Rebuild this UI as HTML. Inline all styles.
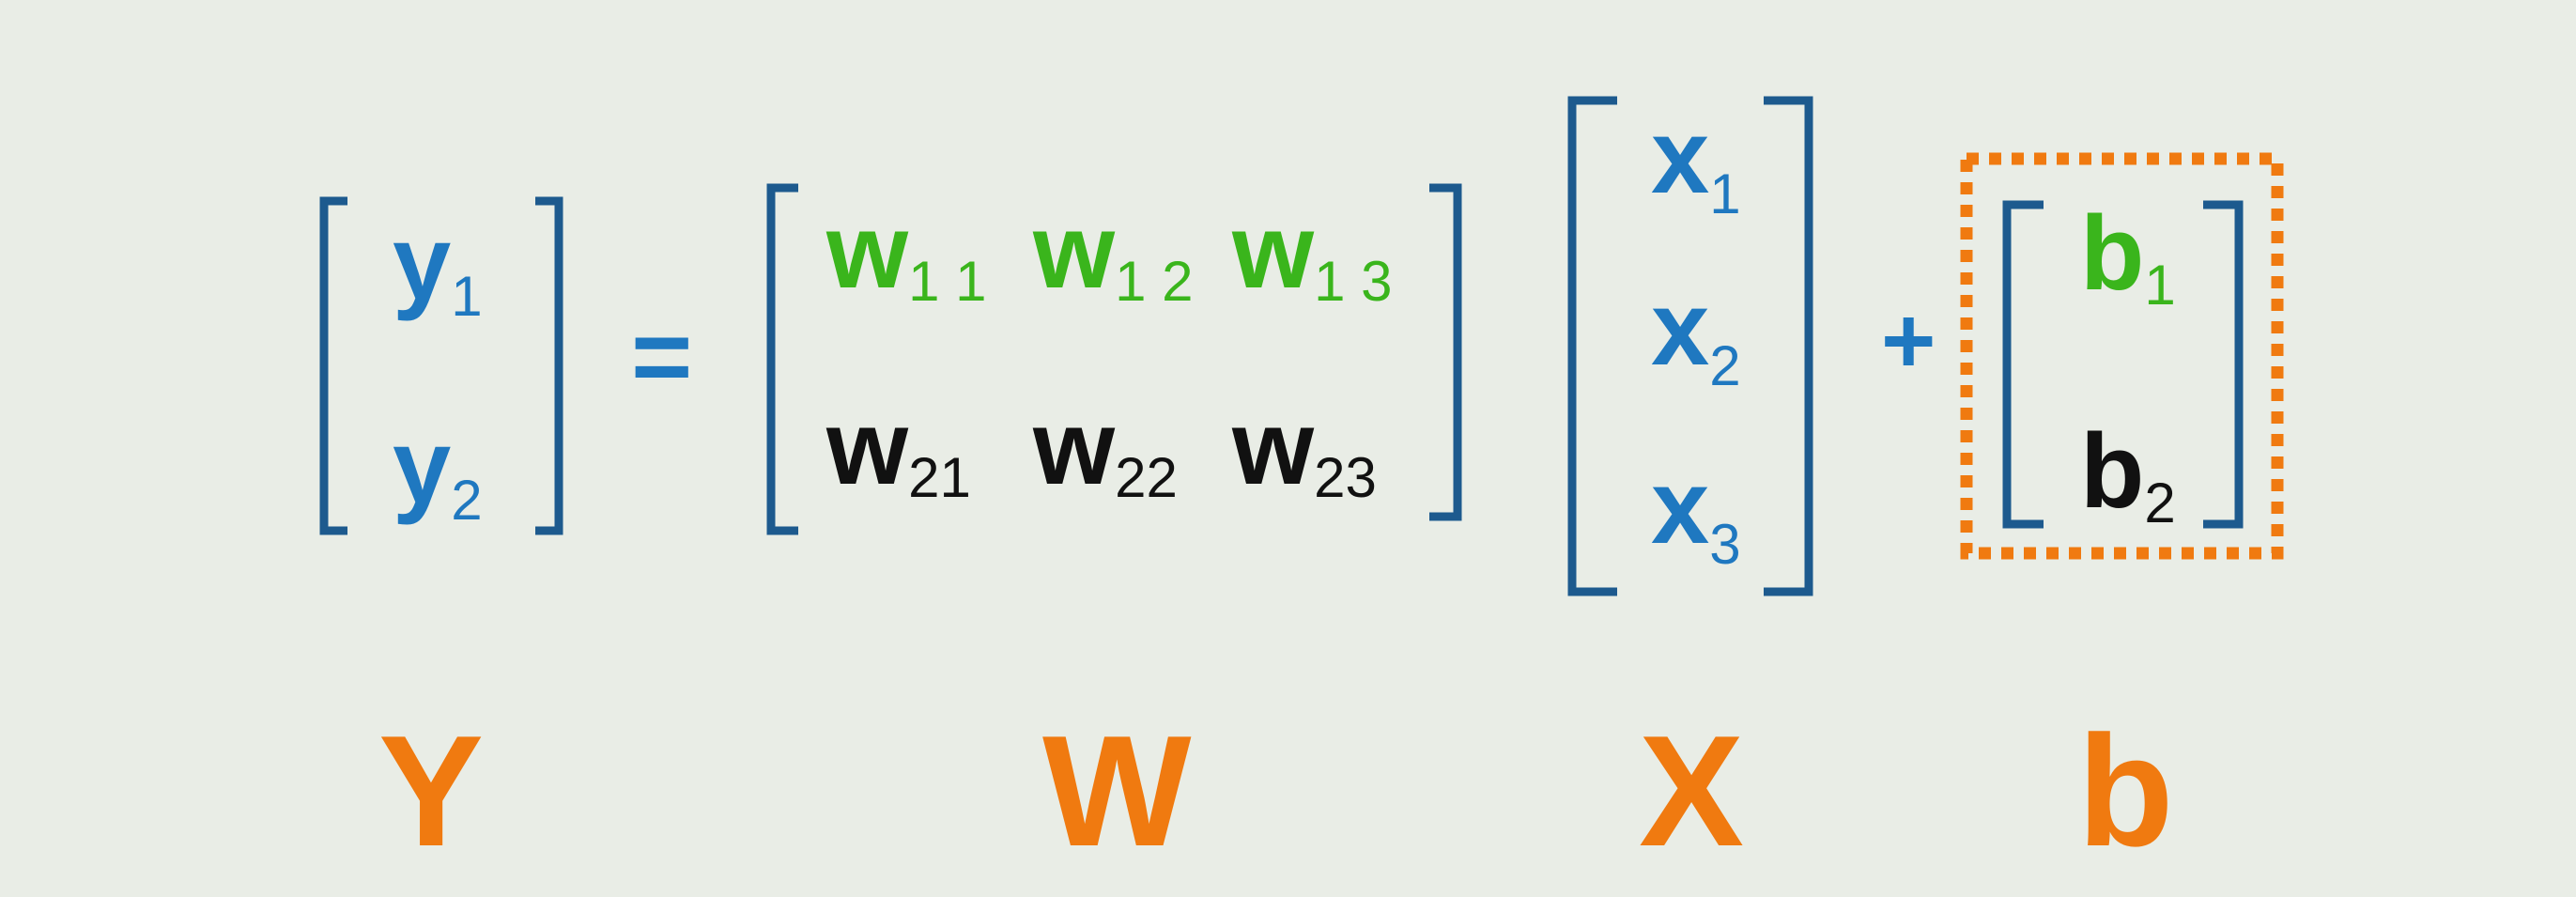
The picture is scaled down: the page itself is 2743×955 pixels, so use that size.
<!DOCTYPE html>
<html><head><meta charset="utf-8"><style>
html,body{margin:0;padding:0;background:#e9ede6;}
svg{display:block}
text{font-family:"Liberation Sans",sans-serif;font-weight:bold;}
tspan.s{font-weight:normal;font-size:60px;}
</style></head><body>
<svg width="2743" height="955" viewBox="0 0 2743 955" xmlns="http://www.w3.org/2000/svg">
<rect width="2743" height="955" fill="#e9ede6"/>
<g fill="none" stroke="#1d5a8e" stroke-width="9">
<polyline points="370,214 345,214 345,565 370,565"/>
<polyline points="570,214 595,214 595,565 570,565"/>
<polyline points="850,200 821,200 821,565 850,565"/>
<polyline points="1522,200 1552,200 1552,550 1522,550"/>
<polyline points="1722,107 1674,107 1674,630 1722,630"/>
<polyline points="1878,107 1926,107 1926,630 1878,630"/>
<polyline points="2176,218 2137,218 2137,558 2176,558"/>
<polyline points="2346,218 2384,218 2384,558 2346,558"/>
</g>
<rect x="2094" y="169" width="331" height="420" fill="none" stroke="#f07a10" stroke-width="13" stroke-dasharray="13 11"/>
<g font-size="112">
<text x="418" y="318" fill="#1f78c0">y<tspan class="s" dy="18">1</tspan></text>
<text x="418" y="535" fill="#1f78c0">y<tspan class="s" dy="18">2</tspan></text>
<text x="672" y="418" fill="#1f78c0">=</text>
<g fill="#3ab51c">
<text x="880" y="306">w<tspan class="s" dy="14">1 1</tspan></text>
<text x="1100" y="306">w<tspan class="s" dy="14">1 2</tspan></text>
<text x="1312" y="306">w<tspan class="s" dy="14">1 3</tspan></text>
</g>
<g fill="#111">
<text x="880" y="515">w<tspan class="s" dy="14">21</tspan></text>
<text x="1100" y="515">w<tspan class="s" dy="14">22</tspan></text>
<text x="1312" y="515">w<tspan class="s" dy="14">23</tspan></text>
</g>
<g fill="#1f78c0">
<text x="1758" y="205">x<tspan class="s" dy="22">1</tspan></text>
<text x="1758" y="388">x<tspan class="s" dy="22">2</tspan></text>
<text x="1758" y="578">x<tspan class="s" dy="22">3</tspan></text>
<text x="2003" y="397" font-size="100">+</text>
</g>
<text x="2215" y="308" fill="#3ab51c">b<tspan class="s" dy="16">1</tspan></text>
<text x="2215" y="540" fill="#111">b<tspan class="s" dy="16">2</tspan></text>
</g>
<g font-size="168" fill="#f07a10">
<text x="403" y="900">Y</text>
<text x="1110" y="900">W</text>
<text x="1745" y="900">X</text>
<text x="2212" y="900">b</text>
</g>
</svg>
</body></html>
